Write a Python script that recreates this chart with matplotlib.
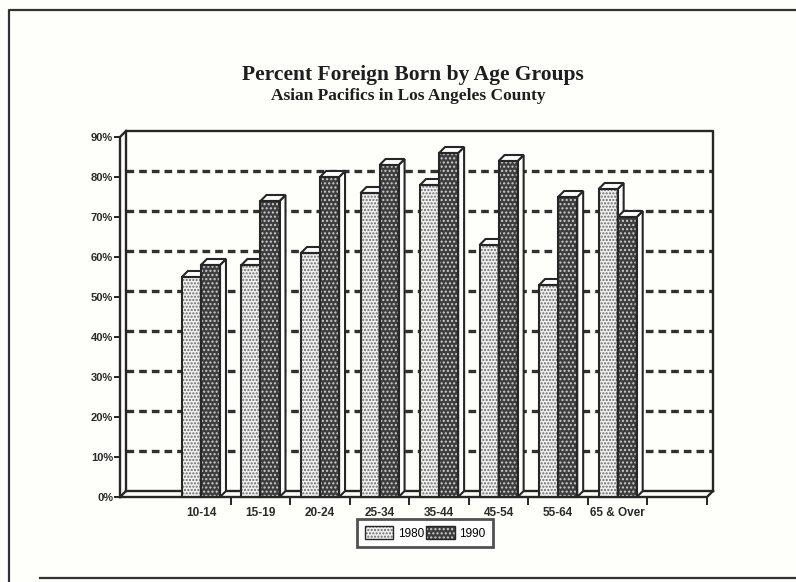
import matplotlib.pyplot as plt
from matplotlib.patches import Polygon, Patch
from matplotlib.lines import Line2D
from matplotlib.legend_handler import HandlerTuple

# Data (percent foreign born)
age_groups = ['10-14', '15-19', '20-24', '25-34', '35-44', '45-54', '55-64', '65 & Over']
pct_1980 = [55, 58, 61, 76, 78, 63, 53, 77]
pct_1990 = [58, 74, 80, 83, 86, 84, 75, 70]
y_ticks = [0, 10, 20, 30, 40, 50, 60, 70, 80, 90]
y_labels = ['%d%%' % v for v in y_ticks]
series_names = ['1980', '1990']

W, H = 796, 582
fig = plt.figure(figsize=(W / 100, H / 100), dpi=100)
fig.patch.set_facecolor('#fefefb')

# axes = front plane of the 3d box
left_px, right_px, bot_px, top_px = 120, 707, 497, 137
ax = fig.add_axes([left_px / W, 1 - bot_px / H, (right_px - left_px) / W, (bot_px - top_px) / H])
ax.set_facecolor('none')
xl, xr = -1.36, 8.5
ax.set_xlim(xl, xr)
ax.set_ylim(0, 90)
for s in ax.spines.values():
    s.set_visible(False)

dx, dy = 0.1, 1.5   # depth offset (data units)
ink = '#262626'

# dashed gridlines on the back wall
for v in y_ticks[1:-1]:
    ax.plot([xl + dx, xr + dx], [v + dy, v + dy], color='#303030', lw=2.4,
            dashes=(2.3, 1.5), zorder=1, clip_on=False, solid_capstyle='butt')

# box outline (back wall, left wall, floor)
box_kw = dict(color=ink, lw=1.7, zorder=2, clip_on=False, solid_capstyle='projecting')
ax.plot([xl + dx, xl + dx, xr + dx, xr + dx], [dy, 90 + dy, 90 + dy, dy], **box_kw)
ax.plot([xl + dx, xr + dx], [dy, dy], **box_kw)
ax.plot([xl, xl, xl + dx], [0, 90, 90 + dy], **box_kw)
ax.plot([xl, xr, xr + dx], [0, 0, dy], **box_kw)
ax.plot([xl, xl + dx], [0, dy], **box_kw)

bw = 0.32
styles = [
    dict(face='#eeeeee', dots='#6a6a6a', hatch='.....'),
    dict(face='#3e3e3e', dots='#cfcfcf', hatch='....'),
]


def draw_bars(xs, vals, st, z):
    # front faces: dotted fill, then the outline
    ax.bar(xs, vals, width=bw, align='edge', color=st['face'], edgecolor=st['dots'],
           hatch=st['hatch'], lw=0, zorder=z, clip_on=False)
    ax.bar(xs, vals, width=bw, align='edge', fill=False, edgecolor=ink, lw=1.5,
           zorder=z + 0.1, clip_on=False)
    # white side face and top cap
    for x0, v in zip(xs, vals):
        x1 = x0 + bw
        side = [(x1, 0), (x1 + dx, dy), (x1 + dx, v + dy), (x1, v)]
        cap = [(x0, v), (x1, v), (x1 + dx, v + dy), (x0 + dx, v + dy)]
        for pts in (side, cap):
            ax.add_patch(Polygon(pts, closed=True, facecolor='white', edgecolor=ink,
                                 lw=1.5, zorder=z + 0.05, clip_on=False))


idx = list(range(len(age_groups)))
draw_bars([i - bw for i in idx], pct_1980, styles[0], 3)
draw_bars(idx, pct_1990, styles[1], 4)

# ticks
ax.set_yticks(y_ticks)
ax.set_yticklabels(y_labels, fontsize=8, fontweight='bold', fontfamily='Liberation Sans',
                   color='#2a2a2a')
ax.tick_params(axis='y', direction='out', length=4, width=1.4, color=ink, pad=1)
ax.set_xticks([i + 0.5 for i in range(len(age_groups) + 1)])
ax.set_xticklabels([])
ax.tick_params(axis='x', which='major', direction='out', length=6, width=1.4, color=ink)
ax.set_xticks(idx, minor=True)
ax.set_xticklabels(age_groups, minor=True, fontsize=8.5, fontweight='bold',
                   fontfamily='Liberation Sans', color='#2a2a2a')
ax.tick_params(axis='x', which='minor', length=0, pad=7)

# legend
handles = []
for st in styles:
    fill = Patch(facecolor=st['face'], edgecolor=st['dots'], hatch=st['hatch'], lw=0)
    edge = Patch(fill=False, edgecolor=ink, lw=1.0)
    handles.append((fill, edge))
leg = ax.legend(handles, series_names, handler_map={tuple: HandlerTuple(ndivide=1)},
                ncol=2, loc='center', bbox_to_anchor=(425 / W, 1 - 533 / H),
                bbox_transform=fig.transFigure, frameon=True, fancybox=False,
                edgecolor=ink, prop={'family': 'Liberation Sans', 'size': 8.5},
                handlelength=2.4, handleheight=1.2, handletextpad=0.4,
                columnspacing=0.2, borderpad=0.6, borderaxespad=0)
leg.get_frame().set_linewidth(2.0)
leg.get_frame().set_facecolor('white')

# titles
fig.text(413 / W, 1 - 75 / H, 'Percent Foreign Born by Age Groups', ha='center', va='center',
         fontsize=15.5, fontweight='bold', fontfamily='Liberation Serif', color='#1e1e1e')
fig.text(408 / W, 1 - 96 / H, 'Asian Pacifics in Los Angeles County', ha='center', va='center',
         fontsize=12.5, fontweight='bold', fontfamily='Liberation Serif', color='#1e1e1e')

# page border from the scan
fig.add_artist(Line2D([9 / W, 9 / W, 1.0], [0, 1 - 10 / H, 1 - 10 / H],
                      transform=fig.transFigure, color='#333333', lw=1.6))
fig.add_artist(Line2D([40 / W, 1.0], [1 - 578 / H, 1 - 578 / H],
                      transform=fig.transFigure, color='#333333', lw=1.6))

fig.savefig('out.png', dpi=100, facecolor=fig.get_facecolor())
